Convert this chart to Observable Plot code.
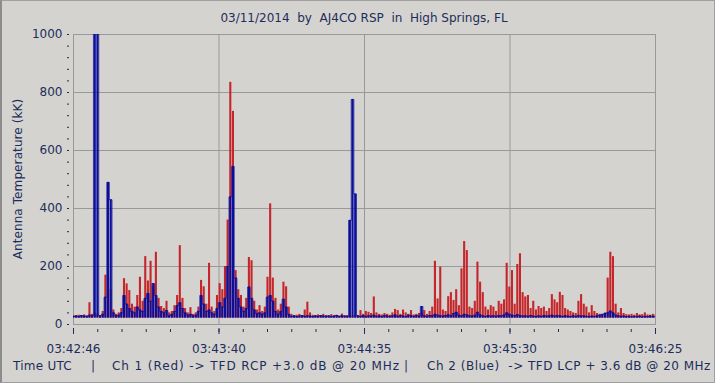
<!DOCTYPE html>
<html>
<head>
<meta charset="utf-8">
<script src="https://cdn.jsdelivr.net/npm/d3@7"></script>
<script src="https://cdn.jsdelivr.net/npm/@observablehq/plot@0.6"></script>
<style>
  html, body { margin: 0; padding: 0; background: #d5d3cf; }
  #wrap { position: relative; width: 715px; height: 383px; overflow: hidden; background: #d5d3cf;
          font-family: "DejaVu Sans", sans-serif; color: #1c2d5c; }
  #wrap::after { content: ""; position: absolute; left: 0; top: 0; right: 0; bottom: 0;
          border: 1px solid #a0a0a0; border-left: 2px solid #8c8c8c; pointer-events: none; }
  #title { height: 28px; line-height: 36px; padding-left: 73px; width: 582px; text-align: center;
           font-size: 12px; white-space: pre; }
  #chart { height: 327px; }
  #chart svg { display: block; }
  #cap { position: relative; height: 28px; font-size: 12px; }
  #cap span { position: absolute; top: 0; line-height: 22px; white-space: pre; }
  #ylab { position: absolute; left: 18px; top: 179px; width: 0; height: 0; }
  #ylab span { position: absolute; transform: translate(-50%, -50%) rotate(-90deg); white-space: pre;
               font-size: 12px; letter-spacing: 0.1px; }
</style>
</head>
<body>
<div id="wrap">
  <div id="title"></div>
  <div id="chart"></div>
  <div id="cap"></div>
  <div id="ylab"><span></span></div>
</div>
<script>
// ---- data (1-second samples starting 03:42:46 UTC) ----
const titleText = "03/11/2014  by  AJ4CO RSP  in  High Springs, FL";
const captionParts = ["Time UTC", "|", "Ch 1 (Red) -> TFD RCP +3.0 dB @ 20 MHz", "|", "Ch 2 (Blue)  -> TFD LCP + 3.6 dB @ 20 MHz"];
const yLabel = "Antenna Temperature (kK)";

const xTickSeconds = [0, 54.75, 109.5, 164.25, 219];
const xTickLabels = ["03:42:46", "03:43:40", "03:44:35", "03:45:30", "03:46:25"];
const yTicks = [0, 200, 400, 600, 800, 1000];

// Ch 1 (Red) - TFD RCP, kK
const ch1Red = [
  30,28,32,29,33,30,75,35,40,35,
  30,45,170,160,120,50,35,40,55,158,
  140,117,70,60,100,163,80,234,150,218,
  130,249,90,62,55,80,40,45,65,100,
  272,90,55,40,58,35,40,60,152,130,
  70,211,60,45,100,141,120,200,360,835,
  735,186,120,100,60,90,231,220,80,50,
  65,45,60,163,416,160,90,50,70,146,
  130,60,35,30,32,35,30,50,77,40,
  32,30,33,29,35,31,28,34,30,32,
  29,36,30,31,30,30,32,30,48,35,
  45,42,38,95,40,35,33,38,35,32,
  40,52,48,35,50,40,35,48,33,35,
  38,40,48,35,45,60,218,88,198,50,
  45,96,110,83,120,65,192,286,255,60,
  55,80,215,146,110,60,50,65,60,45,
  80,70,85,211,129,186,70,207,244,110,
  95,100,55,80,50,62,55,60,45,55,
  103,85,75,111,100,55,50,45,40,38,
  80,103,70,60,40,65,45,38,35,33,
  40,160,249,234,70,40,55,38,34,33,
  35,32,38,33,34,40,33,32,35,33
];

// Ch 2 (Blue) - TFD LCP, kK
const ch2Blue = [
  28,30,27,31,29,28,32,30,1100,1100,
  30,35,94,490,430,40,30,32,40,100,
  70,55,45,40,60,50,45,90,107,80,
  141,100,60,45,40,48,30,35,45,65,
  75,55,40,32,35,30,32,45,100,70,
  45,50,40,35,55,75,60,90,200,440,
  545,160,90,60,45,55,129,90,50,38,
  40,35,40,94,100,80,45,35,45,87,
  60,35,28,30,27,29,31,28,30,29,
  27,30,28,31,29,28,30,27,29,31,
  28,30,29,28,359,776,450,30,28,31,
  27,30,29,32,28,30,27,31,29,28,
  30,33,28,31,29,27,32,30,28,31,
  29,62,30,28,31,30,35,32,30,29,
  31,33,30,38,42,32,30,35,33,30,
  29,32,42,33,30,28,31,29,30,28,
  31,30,33,40,35,32,30,34,31,29,
  30,28,31,29,27,30,28,31,29,30,
  32,29,31,30,28,30,29,27,30,28,
  31,29,30,28,27,29,28,30,32,35,
  38,40,46,40,32,30,28,29,27,28,
  26,28,27,29,26,28,27,29,28,27
];

// ---- styles ----
const textColor = "#1c2d5c";
const gridColor = "#999999";
const redColor = "#c4262b";
const blueColor = "#0b0f9a";
const noiseFloor = 22;
const capLefts = [13, 91, 112, 404, 427];
const capSpacing = [0.25, 0, 0.92, 0, 0.5];

const red = ch1Red.map((v, i) => ({t: i, v}));
const blue = ch2Blue.map((v, i) => ({t: i, v}));
const xMinor = d3.range(0, 24).map(k => k * 54.75 / 6);
const yMinor = d3.range(0, 1001, 40);

document.getElementById("title").textContent = titleText;
document.querySelector("#ylab span").textContent = yLabel;
const cap = document.getElementById("cap");
captionParts.forEach((p, i) => {
  const s = document.createElement("span");
  s.textContent = p;
  s.style.left = capLefts[i] + "px";
  s.style.letterSpacing = capSpacing[i] + "px";
  cap.appendChild(s);
});

const chart = Plot.plot({
  width: 715,
  height: 327,
  marginLeft: 73,
  marginRight: 60,
  marginTop: 6,
  marginBottom: 31,
  style: {background: "transparent", color: textColor, fontFamily: "DejaVu Sans, sans-serif", fontSize: "12px", overflow: "visible"},
  x: {domain: [0, 219], label: null},
  y: {domain: [0, 1000], label: null},
  marks: [
    Plot.ruleY(yTicks.slice(1, -1), {stroke: gridColor, strokeWidth: 1}),
    Plot.ruleX(xTickSeconds.slice(1, -1), {stroke: gridColor, strokeWidth: 1}),
    Plot.frame({stroke: gridColor}),
    Plot.ruleX(red, {x: "t", y1: noiseFloor, y2: "v", stroke: redColor, strokeWidth: 2.1, clip: true}),
    Plot.ruleX(blue, {x: "t", y1: noiseFloor, y2: "v", stroke: blueColor, strokeWidth: 2.1, clip: true}),
    Plot.lineY(blue, {x: "t", y: "v", curve: "step", stroke: blueColor, strokeWidth: 0.7, clip: true}),
    Plot.axisY({ticks: yMinor, tickSize: 2, dx: -4, tickFormat: () => "", label: null}),
    Plot.axisY({ticks: yTicks, tickSize: 0, tickPadding: 11, tickFormat: d => String(d), label: null}),
    Plot.axisX({ticks: xMinor, tickSize: 3, dy: 5, tickFormat: () => "", label: null}),
    Plot.axisX({ticks: xTickSeconds, tickSize: 6, dy: 4, tickFormat: () => "", label: null}),
    Plot.axisX({ticks: xTickSeconds, tickSize: 0, tickPadding: 20, letterSpacing: 0.4,
      tickFormat: d => xTickLabels[xTickSeconds.indexOf(d)], label: null})
  ]
});
document.getElementById("chart").appendChild(chart);
</script>
</body>
</html>
